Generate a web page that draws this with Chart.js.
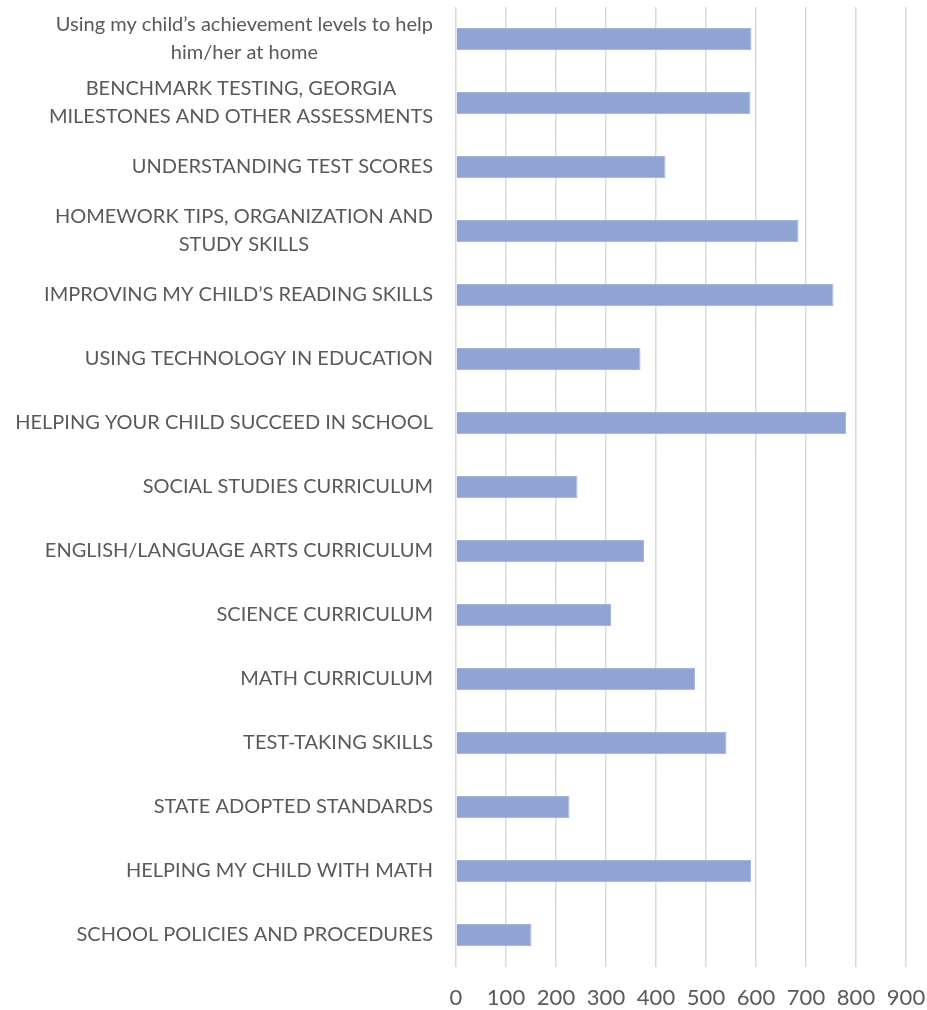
<!DOCTYPE html>
<html>
<head>
<meta charset="utf-8">
<script src="https://cdn.jsdelivr.net/npm/chart.js@4"></script>
<style>
  body { margin: 0; background: #fff; }
  #wrap { width: 927px; height: 1010px; }
</style>
</head>
<body>
<div id="wrap"><canvas id="myChart"></canvas></div>
<script>
// categories, top to bottom
const labels = [
  ['Using my child\u2019s achievement levels to help', 'him/her at home'],
  ['BENCHMARK TESTING, GEORGIA', 'MILESTONES AND OTHER ASSESSMENTS'],
  'UNDERSTANDING TEST SCORES',
  ['HOMEWORK TIPS, ORGANIZATION AND', 'STUDY SKILLS'],
  'IMPROVING MY CHILD\u2019S READING SKILLS',
  'USING TECHNOLOGY IN EDUCATION',
  'HELPING YOUR CHILD SUCCEED IN SCHOOL',
  'SOCIAL STUDIES CURRICULUM',
  'ENGLISH/LANGUAGE ARTS CURRICULUM',
  'SCIENCE CURRICULUM',
  'MATH CURRICULUM',
  'TEST-TAKING SKILLS',
  'STATE ADOPTED STANDARDS',
  'HELPING MY CHILD WITH MATH',
  'SCHOOL POLICIES AND PROCEDURES',
];
const values = [591, 589, 419, 685, 755, 369, 780, 243, 376, 310, 478, 541, 227, 590, 151];
const xTicks = [0, 100, 200, 300, 400, 500, 600, 700, 800, 900];

const textColor = '#595959';
const fontFamily = 'Lato, "Open Sans", sans-serif';

// draws the category labels, multi-line ones centred on each other
const catLabels = {
  id: 'catLabels',
  afterDraw(chart) {
    const ctx = chart.ctx;
    const yScale = chart.scales.y;
    const right = chart.chartArea.left - 23;
    ctx.save();
    ctx.font = '20px ' + fontFamily;
    ctx.fillStyle = textColor;
    ctx.textAlign = 'center';
    ctx.textBaseline = 'middle';
    labels.forEach((lab, i) => {
      const lines = Array.isArray(lab) ? lab : [lab];
      const w = Math.max(...lines.map(l => ctx.measureText(l).width));
      const cx = right - w / 2;
      const cy = yScale.getPixelForValue(i);
      const lh = 28;
      lines.forEach((l, j) => {
        ctx.fillText(l, cx, cy + (j - (lines.length - 1) / 2) * lh);
      });
    });
    ctx.restore();
  }
};

const ctx = document.getElementById('myChart').getContext('2d');
const myChart = new Chart(ctx, {
  type: 'bar',
  data: {
    labels: labels,
    datasets: [
      {
        label: 'Count',
        data: values,
        backgroundColor: '#8FA3D4',
        borderColor: '#A6B6E0',
        borderWidth: 1,
        borderSkipped: 'start',
        barPercentage: 0.344,
        categoryPercentage: 1,
      },
    ],
  },
  options: {
    indexAxis: 'y',
    responsive: true,
    maintainAspectRatio: false,
    animation: false,
    layout: {
      padding: { top: 7, right: 21, bottom: 0, left: 0 },
    },
    plugins: {
      legend: { display: false },
      tooltip: { enabled: false },
    },
    scales: {
      x: {
        min: 0,
        max: 900,
        afterBuildTicks: (scale) => {
          scale.ticks = xTicks.map(v => ({ value: v }));
        },
        afterFit: (scale) => {
          scale.height = 43;
          scale.paddingLeft = 0;
          scale.paddingRight = 0;
        },
        border: { display: false },
        grid: { color: '#d9d9d9', lineWidth: 1.5, drawTicks: false },
        ticks: {
          color: textColor,
          font: { family: fontFamily, size: 22 },
          padding: 18,
          maxRotation: 0,
        },
      },
      y: {
        border: { display: false },
        grid: { display: false },
        ticks: { display: false },
        afterFit: (scale) => {
          scale.width = 456;
        },
      },
    },
  },
  plugins: [catLabels],
});
</script>
</body>
</html>
